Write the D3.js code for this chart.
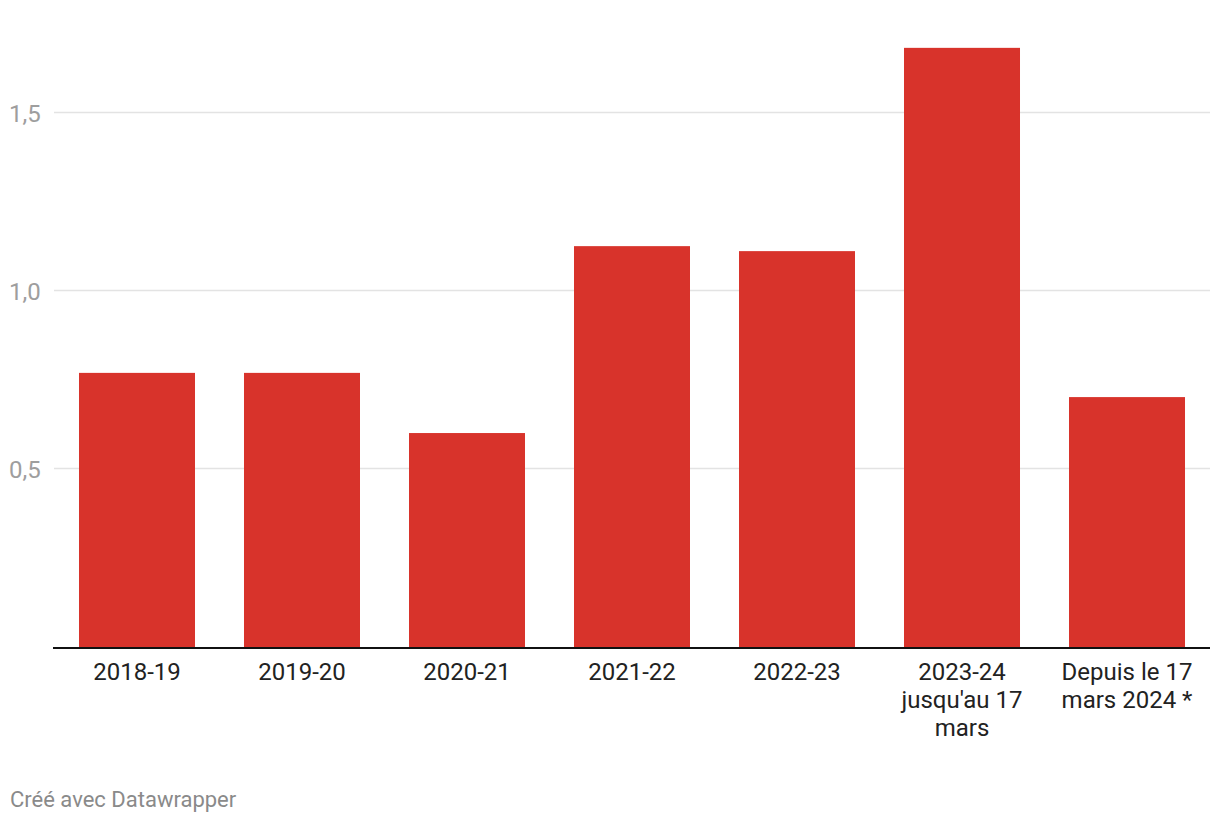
<!DOCTYPE html>
<html><head><meta charset="utf-8">
<script src="https://cdn.jsdelivr.net/npm/d3@7"></script>
<style>
body{margin:0;background:#fff;font-family:Roboto,"Noto Sans",sans-serif;}
</style></head>
<body><svg id="c" width="1220" height="824"></svg>
<script>
const categories = ["2018-19","2019-20","2020-21","2021-22","2022-23","2023-24 jusqu'au 17 mars","Depuis le 17 mars 2024 *"];
const categoryLines = [["2018-19"],["2019-20"],["2020-21"],["2021-22"],["2022-23"],["2023-24","jusqu'au 17","mars"],["Depuis le 17","mars 2024 *"]];
const values = [0.77,0.77,0.601,1.126,1.112,1.683,0.702];
const yTicks = [0.5,1.0,1.5];
const yTickLabels = ["0,5","1,0","1,5"];

const svg = d3.select("#c");
const x = d3.scaleBand().domain(categories).range([52,1212]).paddingInner(0.297).paddingOuter(0.1636);
const y = d3.scaleLinear().domain([0,1.5]).range([647,113]);

// grid
svg.append("g").selectAll("line").data(yTicks).join("line")
  .attr("x1",54).attr("x2",1210)
  .attr("y1",d=>Math.round(y(d))-0.5).attr("y2",d=>Math.round(y(d))-0.5)
  .attr("stroke","#e3e3e3").attr("stroke-width",1.5);
svg.append("g").selectAll("text").data(yTicks).join("text")
  .attr("x",9).attr("y",d=>y(d)+9)
  .attr("font-size",24).attr("fill","#9e9e9e")
  .text((d,i)=>yTickLabels[i]);

// bars
svg.append("g").selectAll("rect").data(values).join("rect")
  .attr("x",(d,i)=>x(categories[i])).attr("width",x.bandwidth())
  .attr("y",d=>y(d)).attr("height",d=>y(0)-y(d))
  .attr("fill","#d8332b");

// baseline
svg.append("line").attr("x1",53).attr("x2",1210).attr("y1",y(0)+1).attr("y2",y(0)+1)
  .attr("stroke","#111").attr("stroke-width",2);

// x labels
const xl = svg.append("g").selectAll("text").data(categories).join("text")
  .attr("text-anchor","middle").attr("font-size",24).attr("fill","#222")
  .attr("transform",d=>`translate(${x(d)+x.bandwidth()/2},680)`);
xl.each(function(d,i){
  const t=d3.select(this);
  categoryLines[i].forEach((l,j)=>t.append("tspan").attr("x",0).attr("y",j*28).text(l));
});

svg.append("text").attr("x",10).attr("y",807).attr("font-size",22).attr("fill","#8a8a8a")
  .text("Créé avec Datawrapper");
</script></body></html>
